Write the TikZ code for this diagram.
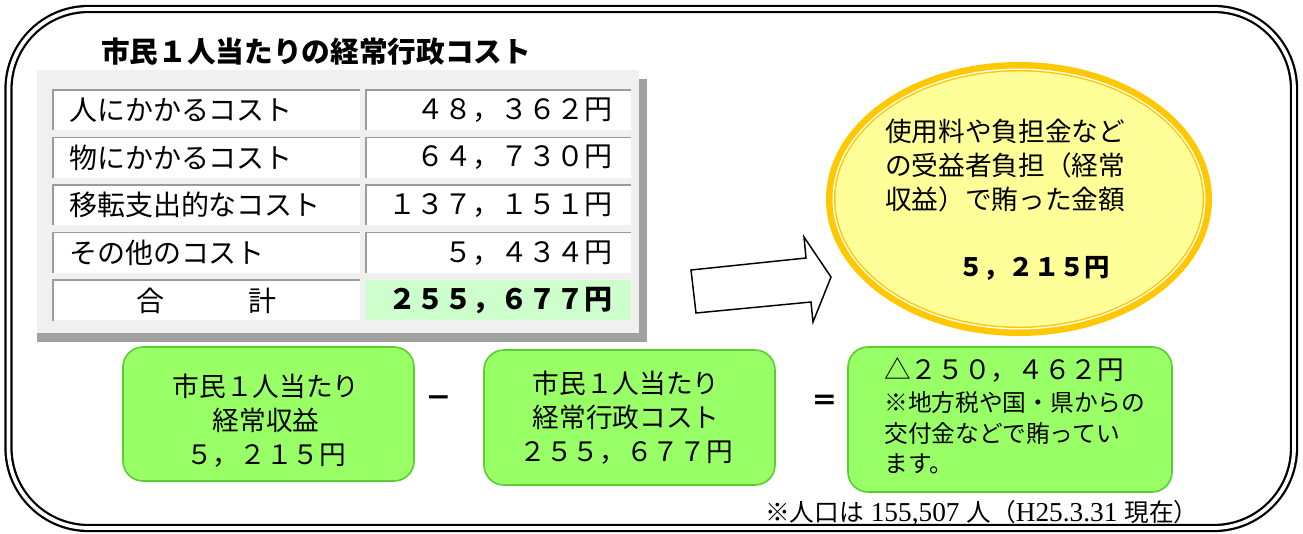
\documentclass[tikz,border=0pt]{standalone}
\usepackage{fontspec}
\setmainfont{Liberation Serif}
\newfontfamily\jp{Noto Sans CJK JP}
\usetikzlibrary{positioning}
\definecolor{panelgray}{RGB}{240,240,240}
\definecolor{shadowgray}{RGB}{160,160,160}
\definecolor{cellline}{RGB}{155,155,155}
\definecolor{totalgreen}{RGB}{204,255,204}
\definecolor{boxgreen}{RGB}{153,255,102}
\definecolor{boxedge}{RGB}{90,205,50}
\definecolor{ringgold}{RGB}{255,200,0}
\definecolor{ovalyellow}{RGB}{255,255,153}
\tikzset{
  cell/.style={fill=white, inner sep=0, minimum height=0.75pt*40},
  lcell/.style={cell, minimum width=0.75pt*307},
  rcell/.style={cell, minimum width=0.75pt*265},
  celltext/.style={inner sep=0, font=\jp\fontsize{21}{25}\selectfont},
  greenbox/.style={rectangle, rounded corners=15pt, fill=boxgreen, draw=boxedge, line width=1.2pt, inner sep=0},
  boxtext/.style={inner sep=0, align=center, font=\jp\fontsize{20}{25.5}\selectfont},
  sign/.style={inner sep=0, font=\jp\bfseries\fontsize{20}{22}\selectfont}
}
\begin{document}
\begin{tikzpicture}[x=0.75pt, y=-0.75pt]
	\useasboundingbox (0,0) rectangle (1303,533);
	% Frame:
	\draw[line width=1.7pt, double=white, double distance=2.8pt, rounded corners=60pt] (8.5,9) rectangle (1294,528);
	% Table:
	\node[anchor=west, inner sep=0, font=\jp\bfseries\fontsize{21.5}{26}\selectfont] (title) at (101,52) {市民１人当たりの経常行政コスト};
	\fill[shadowgray] (37,79) rectangle (647,342);
	\fill[panelgray] (37,70) rectangle (639,333);
	\foreach \lab/\val [count=\i from 0] in {人にかかるコスト/４８，３６２円, 物にかかるコスト/６４，７３０円, 移転支出的なコスト/１３７，１５１円, その他のコスト/５，４３４円}{
		\node[lcell] (l\i) at (206.5,{110+47.6*\i}) {};
		\node[rcell] (r\i) at (498.5,{110+47.6*\i}) {};
		\draw[cellline, line width=1.2pt] (l\i.south west) |- (l\i.north east);
		\draw[cellline, line width=1.2pt] (r\i.south west) |- (r\i.north east);
		\node[celltext, right=12pt of l\i.west] (lt\i) {\lab};
		\node[celltext, left=14pt of r\i.east] (rt\i) {\val};
	}
	\node[lcell, font=\jp\fontsize{21}{25}\selectfont] (l4) at (206.5,300.4) {合　　　計};
	\draw[cellline, line width=1.2pt] (l4.south west) |- (l4.north east);
	\node[rcell, fill=totalgreen] (r4) at (498.5,300.4) {};
	\node[celltext, font=\jp\bfseries\fontsize{21}{25}\selectfont, left=14pt of r4.east] (rt4) {２５５，６７７円};
	% Arrow:
	\draw[line width=1.1pt, fill=white] (691,270) -- (806,258) -- (804,237) -- (831,277) -- (813,322) -- (811,302) -- (696,313) -- cycle;
	% Oval:
	\coordinate (oval) at (1019,199);
	\fill[ringgold] (oval) ellipse [x radius=144.75pt, y radius=102.75pt];
	\fill[white] (oval) ellipse [x radius=139.85pt, y radius=97.85pt];
	\fill[ringgold] (oval) ellipse [x radius=138.75pt, y radius=96.75pt];
	\fill[ovalyellow] (oval) ellipse [x radius=137.65pt, y radius=95.65pt];
	\node[anchor=west, inner sep=0, align=left, font=\jp\fontsize{20}{25.5}\selectfont] (ovaltext) at (885,166) {使用料や負担金など\\の受益者負担（経常\\収益）で賄った金額};
	\node[inner sep=0, font=\jp\bfseries\fontsize{19}{23}\selectfont] (ovalsum) at (1034,268) {５，２１５円};
	% Boxes:
	\node[greenbox, minimum width=0.75pt*291, minimum height=0.75pt*134] (income) at (268.5,414) {};
	\node[boxtext] (incometext) at (266,421) {市民１人当たり\\経常収益\\５，２１５円};
	\node[sign] (minus) at (439,402) {－};
	\node[greenbox, minimum width=0.75pt*291, minimum height=0.75pt*135] (cost) at (629.5,417.5) {};
	\node[boxtext] (costtext) at (626,418) {市民１人当たり\\経常行政コスト\\２５５，６７７円};
	\node[sign] (equals) at (825,403) {＝};
	\node[greenbox, minimum width=0.75pt*324, minimum height=0.75pt*145] (balance) at (1010,419.5) {};
	\node[anchor=west, inner sep=0, font=\jp\fontsize{20}{24}\selectfont] (balancesum) at (884,370) {△２５０，４６２円};
	\node[anchor=west, inner sep=0, align=left, font=\jp\fontsize{17.8}{23}\selectfont] (balancenote) at (884,433) {※地方税や国・県からの\\交付金などで賄ってい\\ます。};
	% Note:
	\node[anchor=west, inner sep=0, font=\fontsize{20.5}{22}\selectfont] (note) at (765,513) {{\jp\fontsize{18.5}{22}\selectfont ※人口は} 155,507 {\jp\fontsize{18.5}{22}\selectfont 人（}H25.3.31 {\jp\fontsize{18.5}{22}\selectfont 現在）}};
\end{tikzpicture}
\end{document}
